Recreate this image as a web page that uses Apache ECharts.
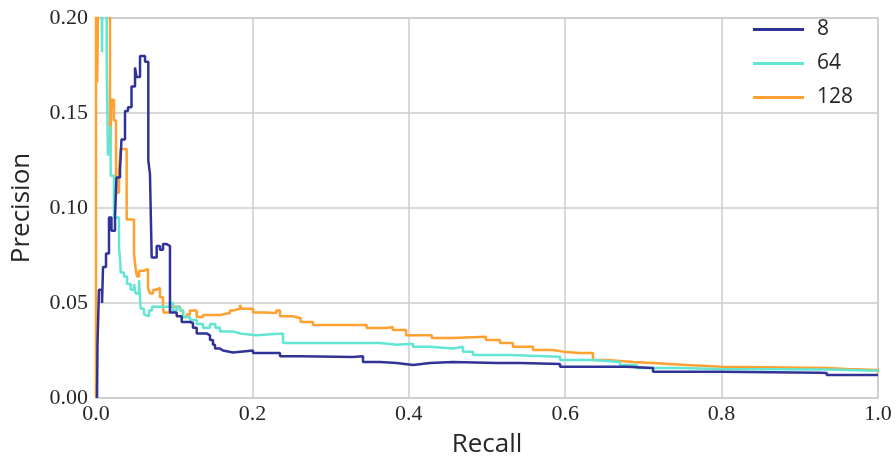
<!DOCTYPE html>
<html>
<head>
<meta charset="utf-8">
<script src="https://cdn.jsdelivr.net/npm/echarts@6/dist/echarts.min.js"></script>
<style>html,body{margin:0;padding:0;background:#fff}#c{width:896px;height:459px}</style>
</head>
<body>
<div id="c"></div>
<script>
// Series names (legend)
const seriesNames = ['8', '64', '128'];
const xTicks = [0, 0.2, 0.4, 0.6, 0.8, 1.0];
const yTicks = [0, 0.05, 0.10, 0.15, 0.20];

// Series "8"
const recall8 = [0.0013,0.0019,0.0038,0.0077,0.009,0.0128,0.0166,0.0198,0.0243,0.0262,0.0307,0.0326,0.0371,0.0409,0.0454,0.0499,0.0518,0.0563,0.0627,0.0669,0.069,0.0712,0.0776,0.0818,0.0857,0.0904,0.0946,0.1032,0.1096,0.1202,0.124,0.1288,0.1416,0.1458,0.1496,0.1522,0.1586,0.1624,0.1752,0.2008,0.231,0.2353,0.2609,0.3286,0.3414,0.3632,0.3845,0.4054,0.4271,0.4565,0.5128,0.5422,0.5934,0.653,0.6786,0.7123,0.798,0.9258,0.9344,1.0];
const prec8   = [0.0,0.028,0.057,0.050,0.069,0.076,0.095,0.088,0.095,0.116,0.120,0.136,0.151,0.153,0.164,0.174,0.169,0.180,0.177,0.125,0.118,0.074,0.080,0.078,0.081,0.080,0.045,0.043,0.040,0.0395,0.037,0.034,0.033,0.0305,0.028,0.026,0.025,0.024,0.025,0.0237,0.0237,0.022,0.0216,0.022,0.019,0.0184,0.0174,0.0184,0.019,0.0184,0.0184,0.0179,0.0165,0.0165,0.0158,0.0138,0.0133,0.0132,0.0121,0.0121];

// Series "64"
const recall64 = [0.0064,0.0077,0.009,0.0137,0.0153,0.0185,0.0188,0.023,0.0294,0.031,0.0316,0.0358,0.0397,0.0443,0.0486,0.0507,0.055,0.0571,0.0614,0.0636,0.0678,0.0716,0.0865,0.0946,0.0985,0.1032,0.1074,0.1113,0.1202,0.1288,0.1368,0.1458,0.1526,0.1586,0.1752,0.1841,0.2046,0.2391,0.30,0.3627,0.3845,0.4054,0.427,0.4565,0.4693,0.4821,0.5294,0.5934,0.6355,0.6701,0.6914,0.7455,0.80,0.9344,1.0];
const prec64   = [0.25,0.182,0.25,0.176,0.128,0.143,0.117,0.095,0.079,0.072,0.066,0.064,0.060,0.057,0.060,0.055,0.062,0.047,0.044,0.043,0.046,0.048,0.048,0.050,0.046,0.048,0.046,0.0426,0.041,0.039,0.037,0.039,0.037,0.035,0.034,0.033,0.034,0.029,0.029,0.028,0.0285,0.027,0.026,0.027,0.0244,0.0226,0.0217,0.020,0.019,0.0174,0.0158,0.0153,0.015,0.0144,0.0138];

// Series "128"
const recall128 = [0,0,0.0015,0.004,0.0179,0.02,0.023,0.0256,0.0294,0.0315,0.0392,0.0486,0.0507,0.0524,0.055,0.0614,0.0665,0.069,0.0729,0.0776,0.0818,0.0857,0.0865,0.0946,0.1074,0.1113,0.116,0.1202,0.1288,0.1368,0.1586,0.1714,0.1752,0.1841,0.1862,0.1969,0.2008,0.2174,0.2306,0.2353,0.2519,0.2617,0.2775,0.3206,0.3461,0.3717,0.3794,0.3965,0.4293,0.4552,0.4987,0.5166,0.5332,0.5588,0.5844,0.5972,0.6185,0.6355,0.6531,0.6871,0.7123,0.7545,0.80,0.9344,0.9604,1.0];
const prec128   = [0,0.25,0.166,0.25,0.128,0.157,0.146,0.108,0.120,0.131,0.094,0.076,0.068,0.064,0.067,0.068,0.058,0.055,0.057,0.058,0.053,0.048,0.045,0.048,0.046,0.0426,0.044,0.046,0.0426,0.0437,0.0447,0.046,0.047,0.049,0.047,0.047,0.045,0.0447,0.046,0.043,0.042,0.040,0.0384,0.0384,0.0368,0.0374,0.0358,0.033,0.0316,0.0323,0.0305,0.0289,0.027,0.0253,0.0244,0.0237,0.0237,0.020,0.019,0.0184,0.0174,0.0165,0.0158,0.0153,0.0147,0.0133];

const colors = ['#303296', '#62e6d3', '#ffa030'];
const zip = (a, b) => a.map((v, i) => [v, b[i]]);
const dataSets = [zip(recall8, prec8), zip(recall64, prec64), zip(recall128, prec128)];

const serif = 'Liberation Serif';
const sans = 'Open Sans';

const chart = echarts.init(document.getElementById('c'), null, {renderer: 'canvas'});
chart.setOption({
  animation: false,
  backgroundColor: '#ffffff',
  grid: {left: 96, right: 18, top: 18, bottom: 61, show: true, borderColor: '#cccccc', borderWidth: 1.5, containLabel: false, outerBoundsMode: 'none'},
  legend: {
    orient: 'vertical', right: 38, top: 14,
    data: seriesNames,
    icon: 'rect', itemWidth: 51, itemHeight: 3, itemGap: 13,
    textStyle: {fontFamily: sans, fontSize: 21, color: '#262626', padding: [0, 0, 0, 8]}
  },
  xAxis: {
    type: 'value', min: xTicks[0], max: xTicks[xTicks.length - 1], interval: 0.2,
    name: 'Recall', nameLocation: 'middle', nameGap: 34,
    nameTextStyle: {fontFamily: sans, fontSize: 26, color: '#262626'},
    axisLine: {show: false}, axisTick: {show: false},
    axisLabel: {fontFamily: serif, fontSize: 22, color: '#262626', margin: 5, formatter: v => v.toFixed(1)},
    splitLine: {show: true, lineStyle: {color: '#cccccc', width: 1.5}}
  },
  yAxis: {
    type: 'value', min: yTicks[0], max: yTicks[yTicks.length - 1], interval: 0.05,
    name: 'Precision', nameLocation: 'middle', nameGap: 61, nameRotate: 90,
    nameTextStyle: {fontFamily: sans, fontSize: 26, color: '#262626'},
    axisLine: {show: false}, axisTick: {show: false},
    axisLabel: {fontFamily: serif, fontSize: 22, color: '#262626', margin: 8, formatter: v => v.toFixed(2)},
    splitLine: {show: true, lineStyle: {color: '#cccccc', width: 1.5}}
  },
  series: seriesNames.map((n, i) => ({
    name: n, type: 'line', step: 'end', data: dataSets[i],
    showSymbol: false, symbol: 'none', clip: true,
    lineStyle: {color: colors[i], width: 2.5, opacity: 1},
    itemStyle: {color: colors[i]},
    z: 10 - i
  }))
});
</script>
</body>
</html>
